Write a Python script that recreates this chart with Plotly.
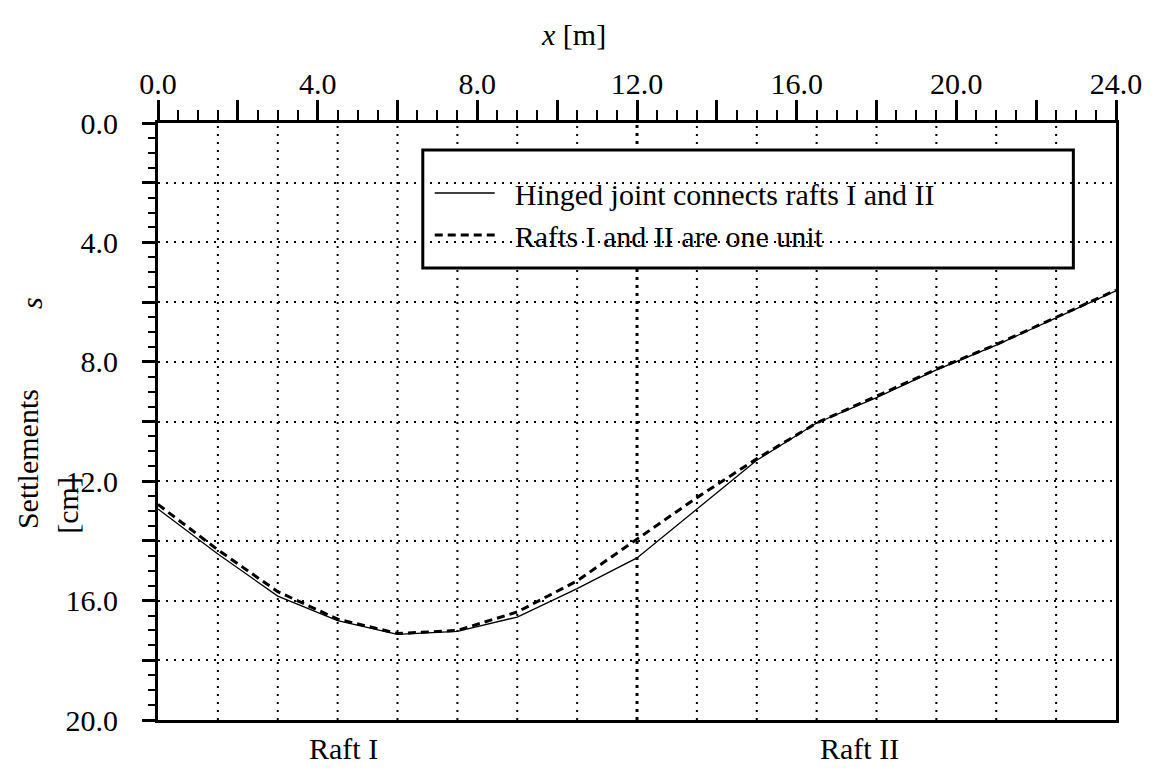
import plotly.graph_objects as go

# Settlement profile along the two rafts
x_m = [0, 1.5, 3, 4.5, 6, 7.5, 9, 10.5, 12, 13.5, 15, 16.5, 18, 19.5, 21, 22.5, 24]
s_hinged = [12.93, 14.44, 15.85, 16.67, 17.13, 17.03, 16.55, 15.6, 14.57, 12.93,
            11.3, 10.05, 9.2, 8.27, 7.44, 6.53, 5.62]
s_one_unit = [12.78, 14.3, 15.7, 16.62, 17.1, 17.0, 16.38, 15.34, 13.94, 12.55,
              11.25, 10.05, 9.15, 8.25, 7.42, 6.5, 5.6]

series_names = ["Hinged joint connects rafts I and II", "Rafts I and II are one unit"]

x_tickvals = [0, 2, 4, 6, 8, 10, 12, 14, 16, 18, 20, 22, 24]
x_ticktext = ["0.0", "", "4.0", "", "8.0", "", "12.0", "", "16.0", "", "20.0", "", "24.0"]
y_tickvals = [0, 2, 4, 6, 8, 10, 12, 14, 16, 18, 20]
y_ticktext = ["0.0", "", "4.0", "", "8.0", "", "12.0", "", "16.0", "", "20.0"]

x_grid = [1.5, 3, 4.5, 6, 7.5, 9, 10.5, 13.5, 15, 16.5, 18, 19.5, 21, 22.5]
joint_x = 12

FONT = "Liberation Serif"
FS = 30
W, H = 1154, 773
ML, MR, MT, MB = 158, 30, 123, 53
PW, PH = W - ML - MR, H - MT - MB


def px(xp):
    return (xp - ML) / PW


def py(yp):
    return (H - MB - yp) / PH


fig = go.Figure()
fig.add_trace(go.Scatter(
    x=x_m, y=s_hinged, mode="lines", name="\u00a0\u00a0" + series_names[0],
    line=dict(color="black", width=1.3), legendgroup="a"))
fig.add_trace(go.Scatter(
    x=x_m, y=s_one_unit, mode="lines", name="\u00a0\u00a0" + series_names[1],
    line=dict(color="black", width=3, dash="8px,5px"), legendgroup="b"))

shapes = []
for gx in x_grid:
    shapes.append(dict(type="line", xref="x", yref="paper", x0=gx, x1=gx, y0=0, y1=1,
                       line=dict(color="black", width=2, dash="2px,6px"), layer="between"))
shapes.append(dict(type="line", xref="x", yref="paper", x0=joint_x, x1=joint_x, y0=0, y1=1,
                   line=dict(color="black", width=3, dash="3px,5px"), layer="between"))
# legend frame
shapes.append(dict(type="rect", xref="paper", yref="paper",
                   x0=px(425), x1=px(1081), y0=py(268), y1=py(150),
                   line=dict(color="black", width=3), fillcolor="white", layer="between"))


def label(text, xp, yp, angle=0):
    return dict(text=text, x=px(xp), y=py(yp), xref="paper", yref="paper",
                xanchor="center", yanchor="middle", showarrow=False, textangle=angle,
                font=dict(family=FONT, size=FS, color="black"))


annotations = [
    label("<i>x</i> [m]", 577, 34),
    label("<i>s</i>", 30, 303, -90),
    label("Settlements", 26, 459, -90),
    label("[cm]", 66, 505, -90),
    label("Raft I", 345, 748),
    label("Raft II", 865, 748),
]

fig.update_layout(
    width=W, height=H,
    margin=dict(l=ML, r=MR, t=MT, b=MB),
    paper_bgcolor="white", plot_bgcolor="white",
    font=dict(family=FONT, size=FS, color="black"),
    shapes=shapes, annotations=annotations,
    legend=dict(x=px(432), y=py(167), xanchor="left", yanchor="top",
                bgcolor="rgba(0,0,0,0)", borderwidth=0, itemwidth=60,
                tracegroupgap=0, traceorder="grouped",
                font=dict(family=FONT, size=FS, color="black")),
    xaxis=dict(side="top", range=[0, 24], tickmode="array", tickvals=x_tickvals,
               ticktext=x_ticktext, ticks="outside", ticklen=20, tickwidth=3,
               tickcolor="black", showgrid=False, zeroline=False,
               showline=True, linewidth=3, linecolor="black", mirror=True,
               ticklabelstandoff=-6,
               minor=dict(tick0=0, dtick=0.5, ticks="outside", ticklen=10,
                          tickwidth=2, tickcolor="black", showgrid=False)),
    yaxis=dict(range=[20, 0], tickmode="array", tickvals=y_tickvals,
               ticktext=y_ticktext, ticks="outside", ticklen=13, tickwidth=3,
               tickcolor="black", showgrid=True, gridcolor="black", gridwidth=2,
               griddash="2px,6px", zeroline=False,
               showline=True, linewidth=3, linecolor="black", mirror=True,
               ticklabelstandoff=18,
               minor=dict(tick0=0, dtick=0.5, ticks="outside", ticklen=7,
                          tickwidth=2, tickcolor="black", showgrid=False)),
)

fig.write_html("out.html")
